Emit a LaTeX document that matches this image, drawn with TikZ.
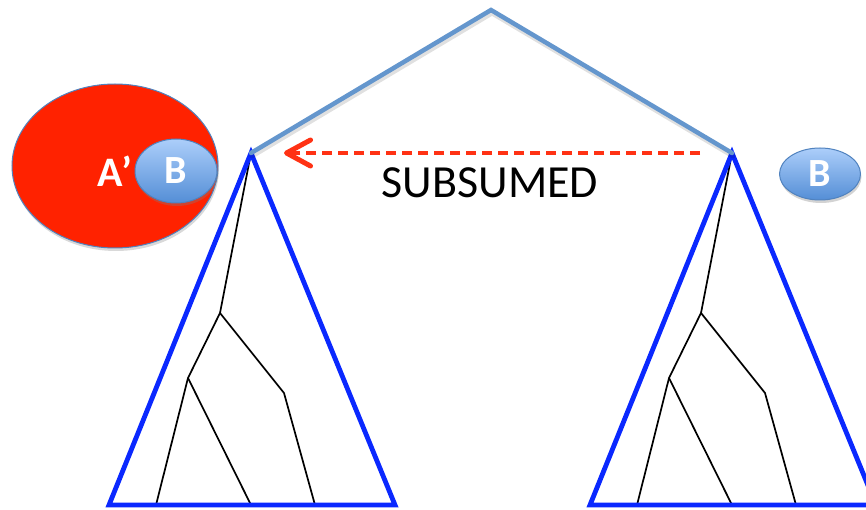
\documentclass[tikz,border=0pt]{standalone}
\usepackage{fontspec}
\setmainfont{Carlito}
\usetikzlibrary{shapes.geometric,shadows,arrows.meta}
\definecolor{triblue}{RGB}{10,40,255}
\definecolor{roofblue}{RGB}{100,150,205}
\definecolor{setred}{RGB}{255,34,0}
\definecolor{arrowred}{RGB}{255,50,20}
\definecolor{edgeblue}{RGB}{80,130,190}
\definecolor{bubtop}{RGB}{172,206,250}
\definecolor{bubbottom}{RGB}{84,142,214}
\tikzset{
  tri/.style={draw=triblue, line width=4.8pt, line join=miter},
  roof/.style={draw=roofblue, line width=4.5pt, line cap=round},
  roofshadow/.style={draw=black, opacity=0.12, line width=5pt, line cap=round},
  branch/.style={draw=black, line width=1.7pt, line join=round},
  bubble/.style={ellipse, draw=edgeblue, line width=1pt, top color=bubtop,
    bottom color=bubbottom, inner sep=0pt,
    drop shadow={shadow xshift=1pt, shadow yshift=-3pt, opacity=0.35},
    text=white, font=\fontsize{40}{40}\selectfont\bfseries},
  setA/.style={ellipse, draw=edgeblue, line width=1pt, fill=setred, inner sep=0pt,
    drop shadow={shadow xshift=1pt, shadow yshift=-3pt, opacity=0.3}},
  subsumes/.style={draw=arrowred, line width=3.2pt, dash pattern=on 10pt off 6pt,
    -{Straight Barb[length=24pt,width=26pt,line width=5pt,line cap=round,line join=round]}},
}
% subtree shape: outline plus inner branching
\newcommand{\subtree}[2]{%
  \begin{scope}[xshift=#1pt]
    \coordinate (#2apex) at (251,153);
    \coordinate (#2n1) at (220,313);
    \coordinate (#2n2) at (188,378);
    \coordinate (#2n3) at (284,393);
    \draw[branch] (#2apex) -- (#2n1) -- (#2n2) -- (156,505);
    \draw[branch] (#2n2) -- (251,505);
    \draw[branch] (#2n1) -- (#2n3) -- (315,505);
    \draw[tri] (#2apex) -- (109,505) -- (395,505) -- cycle;
  \end{scope}}
\begin{document}
\begin{tikzpicture}[x=1pt,y=-1pt]
\useasboundingbox (0,0) rectangle (866,510);

\subtree{0}{L}
\subtree{481}{R}

% root joining the two subtrees, with a soft shadow
\coordinate (top) at (491,10);
\draw[roofshadow, transform canvas={xshift=1pt,yshift=-3pt}] (Lapex) -- (top) -- (Rapex);
\draw[roof] (Lapex) -- (top) -- (Rapex);

% set A' containing B
\node[setA, minimum width=206pt, minimum height=164pt] (setA) at (115,166) {};
\node[text=white, font=\fontsize{42}{42}\selectfont\bfseries] (aprime) at (115,171) {A’};
\node[bubble, minimum width=82pt, minimum height=64pt] (bLeft) at (176,171) {B};

% standalone B
\node[bubble, minimum width=81pt, minimum height=52pt] (bRight) at (820,174) {B};

% subsumption arrow
\draw[subsumes, shorten <=32pt, shorten >=33pt] (Rapex) -- (Lapex);
\node[font=\fontsize{46}{46}\selectfont] (label) at (490,183) {SUBSUMED};
\end{tikzpicture}
\end{document}
